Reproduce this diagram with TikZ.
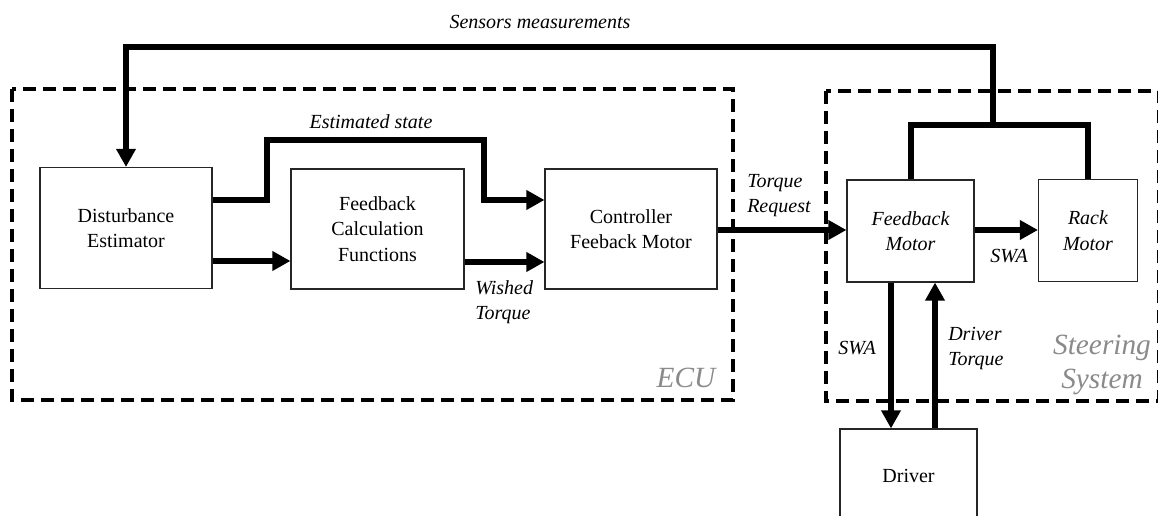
\documentclass[tikz,border=0pt]{standalone}
\usepackage{fontspec}
\setmainfont{Liberation Serif}
\usetikzlibrary{arrows.meta}
\definecolor{labelgray}{RGB}{138,138,138}
\tikzset{
  block/.style={draw=black!85, line width=0.8pt, fill=white, align=center,
    font=\fontsize{15}{19}\selectfont, inner sep=0pt},
  flow/.style={line width=4.5pt, -{Triangle[length=13.5pt,width=14pt]}},
  bus/.style={line width=4.5pt},
  region/.style={line width=2.5pt, dash pattern=on 9.75pt off 5.25pt},
  sig/.style={font=\fontsize{15}{19}\selectfont\itshape, inner sep=0pt},
  zone/.style={font=\fontsize{22}{25}\selectfont\itshape, text=labelgray, inner sep=0pt, align=center}
}
\begin{document}
\begin{tikzpicture}[x=0.75pt,y=-0.75pt]
\useasboundingbox (0,0) rectangle (1158,516);
\clip (0,0) rectangle (1158,516);

% dashed enclosures
\draw[region] (12,89) rectangle (733,400);
\draw[region] (826,91) rectangle (1158.5,401);

% blocks
\node[block, minimum width=129pt, minimum height=90.75pt] (DE) at (126,228) {Disturbance\\Estimator};
\node[block, minimum width=129.75pt, minimum height=90pt] (FC) at (377.5,229) {Feedback\\Calculation\\Functions};
\node[block, minimum width=129pt, minimum height=90pt] (CFM) at (631,229) {Controller\\Feeback Motor};
\node[block, minimum width=95.25pt, minimum height=76.5pt, font=\fontsize{15}{19}\selectfont\itshape] (FM) at (910.5,231) {Feedback\\Motor};
\node[block, minimum width=74.25pt, minimum height=76.5pt, font=\fontsize{15}{19}\selectfont\itshape] (RM) at (1088,230.5) {Rack\\Motor};
\node[block, minimum width=102.75pt, minimum height=70.5pt] (DRV) at (908.5,476) {Driver};

% signal flow inside the ECU
\draw[flow] (DE.east |- 0,200) -- (267,200) -- (267,140) -- (484,140) -- (484,200) -- (CFM.west |- 0,200);
\draw[flow] (DE.east |- 0,261) -- (FC.west |- 0,261);
\draw[flow] (FC.east |- 0,262) -- (CFM.west |- 0,262);
\draw[flow] (CFM.east |- 0,230) -- (FM.west |- 0,230);

% steering system
\draw[flow] (FM.east |- 0,230) -- (RM.west |- 0,230);
\draw[flow] (FM.south -| 891,0) -- (DRV.north -| 891,0);
\draw[flow] (DRV.north -| 935,0) -- (FM.south -| 935,0);

% sensor feedback loop
\coordinate (tap) at (993,125);
\draw[bus] (FM.north) |- (tap) -| (RM.north);
\draw[flow] (tap) -- (993,47) -- (DE.north |- 0,47) -- (DE.north);

% signal labels
\node[sig] (lsens) at (540,22) {Sensors measurements};
\node[sig] (lest) at (371,122) {Estimated state};
\node[sig, align=left, anchor=west] (lwish) at (475,302) {Wished\\Torque};
\node[sig, align=left, anchor=west] (ltorq) at (747,195.5) {Torque\\Request};
\node[sig] (lswa1) at (1009,256) {SWA};
\node[sig] (lswa2) at (857,348) {SWA};
\node[sig, align=left, anchor=west] (ldrv) at (948,348.5) {Driver\\Torque};

% region labels
\node[zone] (lecu) at (686,378) {ECU};
\node[zone] (lsteer) at (1102,365) {Steering\\System};
\end{tikzpicture}
\end{document}
